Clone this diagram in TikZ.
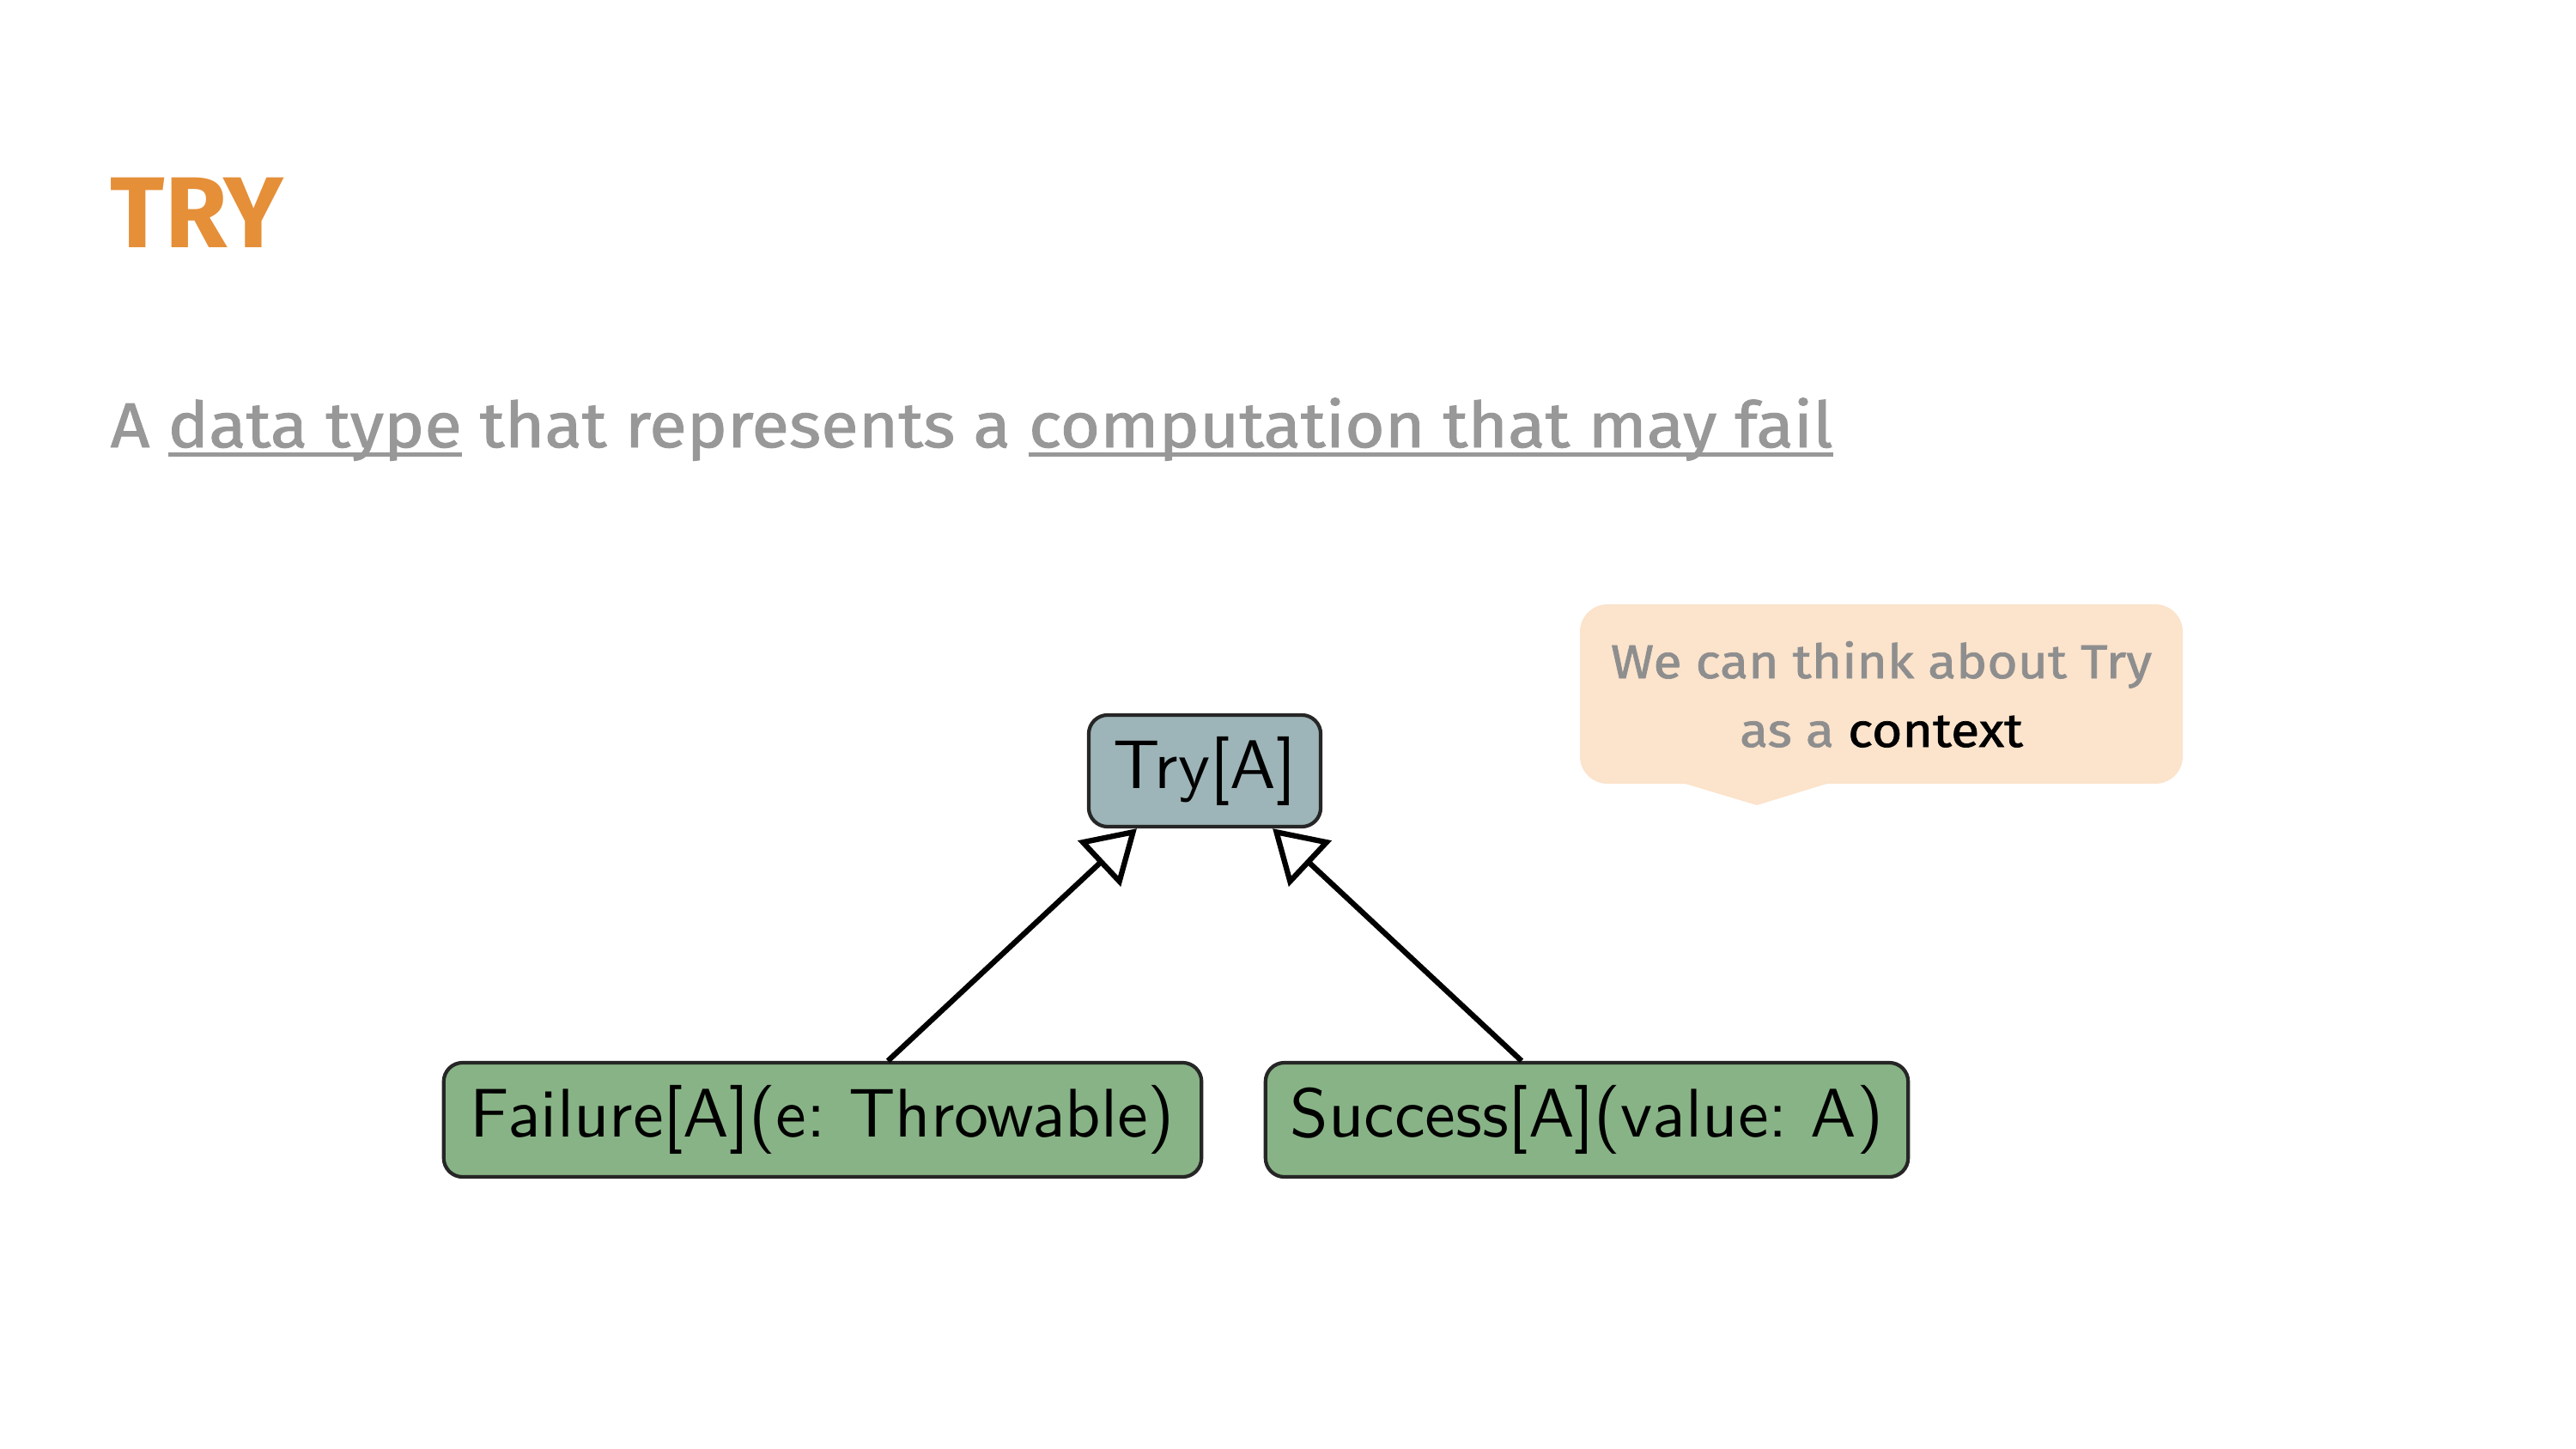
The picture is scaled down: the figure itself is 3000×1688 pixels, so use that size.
\documentclass[tikz,border=0pt]{standalone}
\usepackage{fontspec}
\setmainfont{Fira Sans}
\newfontfamily\subfont[FakeBold=1.3, FakeStretch=1.08]{Fira Sans}
\newfontfamily\bubfont[FakeBold=1.3, FakeStretch=1.1]{Fira Sans}
\newfontfamily\umlfont{lmsans10-regular}[Extension=.otf]
\usetikzlibrary{arrows.meta,calc}
\definecolor{tryorange}{HTML}{E58F38}
\definecolor{subgray}{HTML}{989898}
\definecolor{bubblefill}{HTML}{FBE3CC}
\definecolor{bubblegray}{HTML}{8E8E8E}
\definecolor{tryfill}{HTML}{9DB5B8}
\definecolor{casefill}{HTML}{88B386}
\newcommand\myul[1]{\setbox0\hbox{#1}\rlap{\rule[-3.26pt]{\wd0}{1.42pt}}\box0\relax}
\tikzset{
  umlbox/.style={draw=black!85, line width=1.2pt, rounded corners=0.22cm, inner sep=0pt,
    font=\umlfont\fontsize{22.8}{27}\selectfont\frenchspacing, text=black},
  inh/.style={line width=1.8pt, -{Triangle[open, length=0.6cm, width=0.72cm]}},
  bubtext/.style={anchor=base, inner sep=0pt, font=\bubfont\fontsize{15.7}{19}\selectfont, text=bubblegray}
}
\begin{document}
\begin{tikzpicture}[x=0.01cm,y=-0.01cm]
\useasboundingbox (0,0) rectangle (3000,1688);
% title
\node[anchor=base west, inner sep=0pt, font=\fontsize{33.4}{40}\selectfont\bfseries, text=tryorange] (title) at (128,288) {TRY};
% subtitle
\node[anchor=base west, inner sep=0pt, font=\subfont\fontsize{21}{25}\selectfont, text=subgray] (sub) at (128,521)
  {A \myul{data type} that represents a \myul{computation that may fail}};
% speech bubble
\fill[bubblefill, rounded corners=0.32cm] (1840,704) rectangle (2542,913);
\fill[bubblefill] (1956,911) -- (2046,938) -- (2134,911) -- cycle;
\node[bubtext] (bub1) at (2191,790) {We can think about Try};
\node[bubtext] (bub2) at (2191,870) {as a \textcolor{black}{context}};
% class diagram
\node[umlbox, fill=tryfill, minimum width=2.70cm, minimum height=1.30cm] (try) at (1403,898) {Try[A]};
\node[umlbox, fill=casefill, minimum width=8.82cm, minimum height=1.33cm] (fail) at (958,1304.5) {Failure[A](e: Throwable)};
\node[umlbox, fill=casefill, minimum width=7.48cm, minimum height=1.33cm] (succ) at (1848,1304.5) {Success[A](value: A)};
\draw[inh] ([xshift=0.76cm]fail.north) -- ([xshift=-0.79cm]try.south);
\draw[inh] ([xshift=-0.76cm]succ.north) -- ([xshift=0.79cm]try.south);
\end{tikzpicture}
\end{document}
